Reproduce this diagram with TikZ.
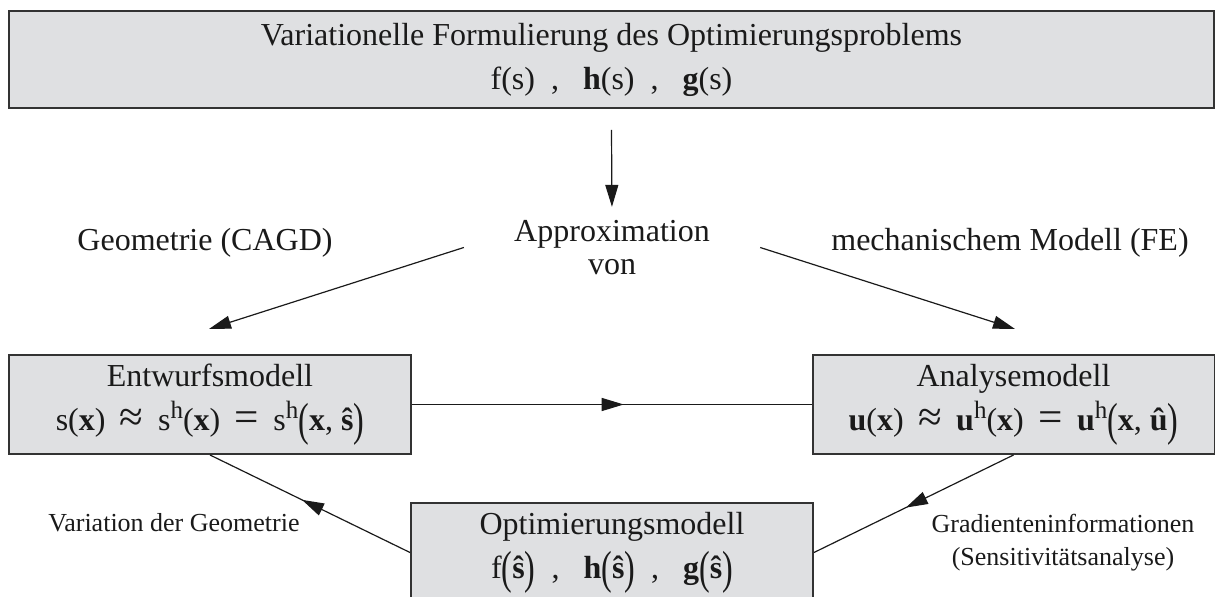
\documentclass[tikz,border=0pt]{standalone}
\usepackage{fontspec}
\setmainfont{Liberation Serif}
\usepackage{xcolor}
\definecolor{cFill}{HTML}{DFE0E2}
\definecolor{cLine}{HTML}{333333}
\definecolor{cText}{HTML}{1A1A1A}
\usepackage{tikz}
\usetikzlibrary{positioning,arrows.meta,calc,decorations.markings}
\newcommand{\bv}[1]{\textbf{#1}}
\newcommand{\bigpar}[1]{\raisebox{-.33ex}{\scalebox{1}[1.45]{(}}#1\raisebox{-.33ex}{\scalebox{1}[1.45]{)}}}
\newcommand{\rel}[1]{\hspace{0.45em}\raisebox{-0.1ex}{\scalebox{1.35}{#1}}\hspace{0.45em}}
\newcommand{\up}[1]{\raisebox{0.8ex}{\fontsize{12.5}{12.5}\selectfont #1}}
\newcommand{\sep}{\enspace,\enspace\ }
\tikzset{
  node-model/.style={draw=cLine,line width=1pt,fill=cFill,text=cText,inner sep=0pt,
    minimum width=201pt,minimum height=49.5pt,align=center,font=\fontsize{16}{22}\selectfont},
  node-top/.style={node-model,minimum width=602.5pt,minimum height=48.5pt},
  node-label/.style={text=cText,inner sep=2pt,align=center,font=\fontsize{16}{16.5}\selectfont},
  node-small/.style={text=cText,inner sep=2pt,align=center,font=\fontsize{13}{16.5}\selectfont},
  arrow/.style={-{Triangle[length=11pt,width=6.5pt]},line width=0.6pt,draw=cText},
  arrow-mid/.style={line width=0.6pt,draw=cText,postaction={decorate},
    decoration={markings,mark=at position #1 with {\arrow{Triangle[length=11pt,width=6.5pt]}}}},
  arrow-mid/.default=0.54,
}
\begin{document}
\begin{tikzpicture}[x=0.5pt,y=-0.5pt]
  \useasboundingbox (0,0) rectangle (1215,597);
  \clip (0,0) rectangle (1215,597);
  \node[node-top] (problem) at (611.5,59.5)
    {Variationelle Formulierung des Optimierungsproblems\\
     f(s)\sep\bv{h}(s)\sep\bv{g}(s)};
  \node[node-label] (approx) at (612,247.5) {Approximation\\von};
  \node[node-label] (cagd) at (205,243) {Geometrie (CAGD)};
  \node[node-label] (fe)   at (1010,243) {mechanischem Modell (FE)};
  \node[node-model] (design) at (210,404.5)
    {Entwurfsmodell\\
     s(\bv{x})\rel{≈}s\up{h}(\bv{x})\rel{=}s\up{h}\bigpar{\bv{x}, \bv{ŝ}}};
  \node[node-model] (analysis) at (1013.5,404.5)
    {Analysemodell\\
     \bv{u}(\bv{x})\rel{≈}\bv{u}\up{h}(\bv{x})\rel{=}\bv{u}\up{h}\bigpar{\bv{x}, \bv{û}}};
  \node[node-model] (optim) at (612,552.5)
    {Optimierungsmodell\\
     f\bigpar{\bv{ŝ}}\sep\bv{h}\bigpar{\bv{ŝ}}\sep\bv{g}\bigpar{\bv{ŝ}}};
  \node[node-small] (variation) at (174,523) {Variation der Geometrie};
  \node[node-small] (gradient)  at (1063,543) {Gradienteninformationen\\(Sensitivitätsanalyse)};
  \draw[arrow,shorten >=4.5pt] ($(problem.south)+(0,21)$) -- (approx.north);
  \draw[arrow] ($(approx.west)+(-46,0)$) -- ($(design.north)+(-1,-25)$);
  \draw[arrow] ($(approx.east)+(46,0)$) -- ($(analysis.north)+(1.5,-25)$);
  \draw[arrow-mid=0.53] (design.east) -- (analysis.west);
  \draw[arrow-mid] (optim.west) -- (design.south);
  \draw[arrow-mid] (analysis.south) -- (optim.east);
\end{tikzpicture}
\end{document}
